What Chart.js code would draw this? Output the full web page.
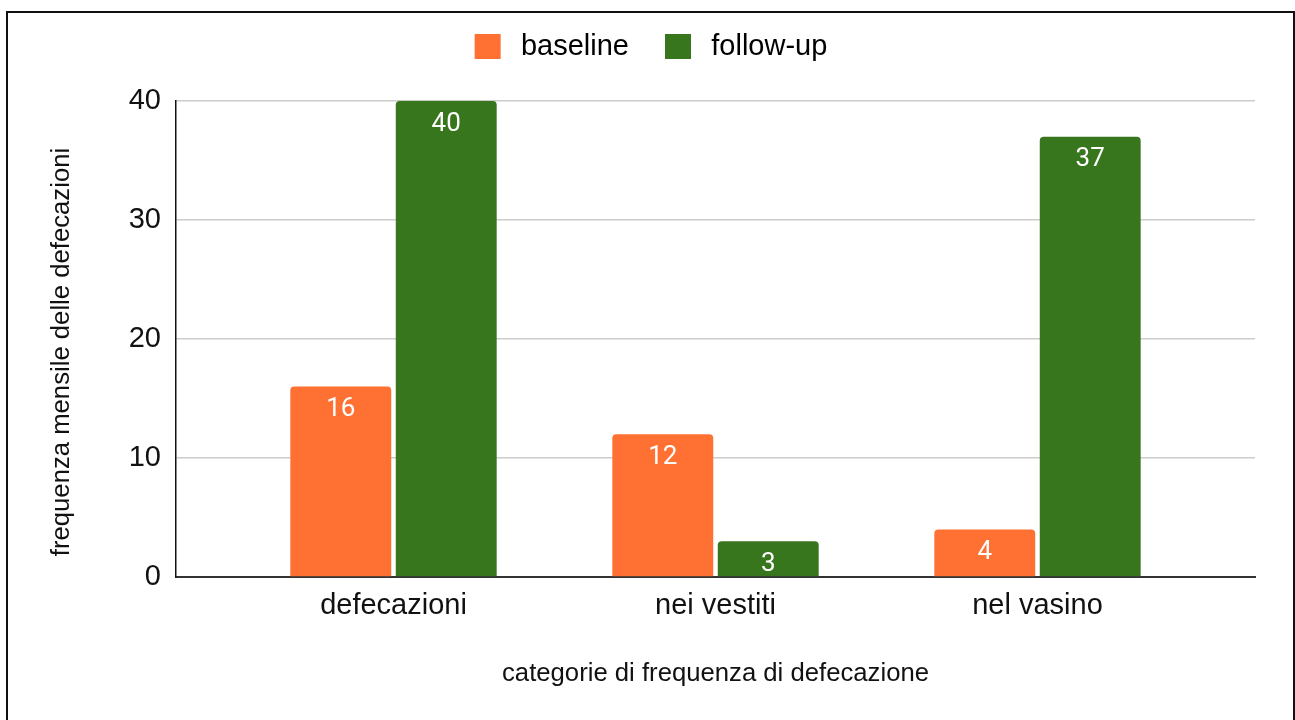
<!DOCTYPE html>
<html>
<head>
<meta charset="utf-8">
<script src="https://cdn.jsdelivr.net/npm/chart.js@4.4.1/dist/chart.umd.min.js"></script>
<style>
  html, body { margin: 0; padding: 0; background: #fff; }
  #wrap { position: relative; width: 1295px; height: 720px; overflow: hidden; }
  #frame { position: absolute; left: 6px; top: 11px; width: 1289px; height: 760px;
           border: 2px solid #111; pointer-events: none; box-sizing: border-box; }
  canvas { display: block; }
</style>
</head>
<body>
<div id="wrap">
  <canvas id="c" width="1295" height="720"></canvas>
  <div id="frame"></div>
</div>
<script>
// Monthly defecation counts per category
const categories = ['defecazioni', 'nei vestiti', 'nel vasino'];
const baseline = [16, 12, 4];
const followUp = [40, 3, 37];
const yTicks = [0, 10, 20, 30, 40];

const ORANGE = '#ff7033';
const GREEN = '#38761d';
const SANS = "'Liberation Sans', Arial, Helvetica, sans-serif";

// Categories are placed at integer positions on a numeric axis
const toPoints = arr => arr.map((v, i) => ({ x: i, y: v }));

// White value labels inside the top of each bar
const barValueLabels = {
  id: 'barValueLabels',
  afterDatasetsDraw(chart) {
    const ctx = chart.ctx;
    ctx.save();
    ctx.font = "26px Roboto";
    ctx.fillStyle = '#ffffff';
    ctx.textAlign = 'center';
    ctx.textBaseline = 'middle';
    chart.data.datasets.forEach((ds, i) => {
      chart.getDatasetMeta(i).data.forEach((bar, j) => {
        ctx.fillText(String(ds.data[j].y), bar.x, bar.y + 23);
      });
    });
    ctx.restore();
  }
};

// Fixed band above the plot for the legend, centred on the whole page,
// and the vertical axis title nudged down a little
const layoutTweaks = {
  id: 'layoutTweaks',
  beforeInit(chart) {
    const origFit = chart.legend.fit;
    chart.legend.fit = function () {
      origFit.call(this);
      this.height = 105;
    };
  },
  afterLayout(chart) {
    chart.legend.left = 0;
    chart.legend.right = 1302;
    const y = chart.scales.y;
    if (!y._titleShifted) {
      const origDrawTitle = y.drawTitle;
      y.drawTitle = function () {
        this.ctx.save();
        this.ctx.translate(0, 13);
        origDrawTitle.call(this);
        this.ctx.restore();
      };
      y._titleShifted = true;
    }
  }
};

new Chart(document.getElementById('c'), {
  type: 'bar',
  data: {
    datasets: [
      { label: 'baseline', data: toPoints(baseline), backgroundColor: ORANGE },
      { label: 'follow-up', data: toPoints(followUp), backgroundColor: GREEN }
    ]
  },
  options: {
    responsive: false,
    animation: false,
    layout: { padding: { left: 0, right: 40, top: -4, bottom: 0 } },
    datasets: {
      bar: {
        categoryPercentage: 0.655,
        barPercentage: 0.957,
        borderRadius: 4,
        borderSkipped: 'start'
      }
    },
    plugins: {
      legend: {
        position: 'top',
        labels: {
          font: { family: SANS, size: 29 },
          color: '#222',
          boxWidth: 26,
          boxHeight: 25,
          padding: 36,
          generateLabels(chart) {
            return chart.data.datasets.map((ds, i) => ({
              text: '\u2009' + ds.label,
              fillStyle: ds.backgroundColor,
              strokeStyle: ds.backgroundColor,
              lineWidth: 0,
              hidden: false,
              datasetIndex: i
            }));
          }
        }
      },
      tooltip: { enabled: false }
    },
    scales: {
      x: {
        type: 'linear',
        offset: false,
        min: -0.6755,
        max: 2.6755,
        afterBuildTicks(scale) { scale.ticks = categories.map((_, i) => ({ value: i })); },
        grid: { display: false, drawTicks: false },
        border: { display: true, color: '#333', width: 2 },
        ticks: {
          color: '#111',
          padding: 12,
          font: { family: SANS, size: 29 },
          callback: v => categories[v]
        },
        title: {
          display: true,
          text: 'categorie di frequenza di defecazione',
          color: '#111',
          font: { family: SANS, size: 25.7 },
          padding: { top: 0, bottom: 31 }
        },
        afterFit(scale) { scale.height = 143; }
      },
      y: {
        min: 0,
        max: 40,
        afterBuildTicks(scale) { scale.ticks = yTicks.map(v => ({ value: v })); },
        grid: { color: '#cccccc', lineWidth: 1.5, drawTicks: false },
        border: { display: true, color: '#111', width: 1.5 },
        ticks: {
          color: '#111',
          padding: 15,
          font: { family: SANS, size: 29 }
        },
        title: {
          display: true,
          text: 'frequenza mensile delle defecazioni',
          color: '#111',
          font: { family: SANS, size: 25.7 },
          padding: { top: 46, bottom: 0 }
        },
        afterFit(scale) { scale.width = 176; }
      }
    }
  },
  plugins: [barValueLabels, layoutTweaks]
});
</script>
</body>
</html>
